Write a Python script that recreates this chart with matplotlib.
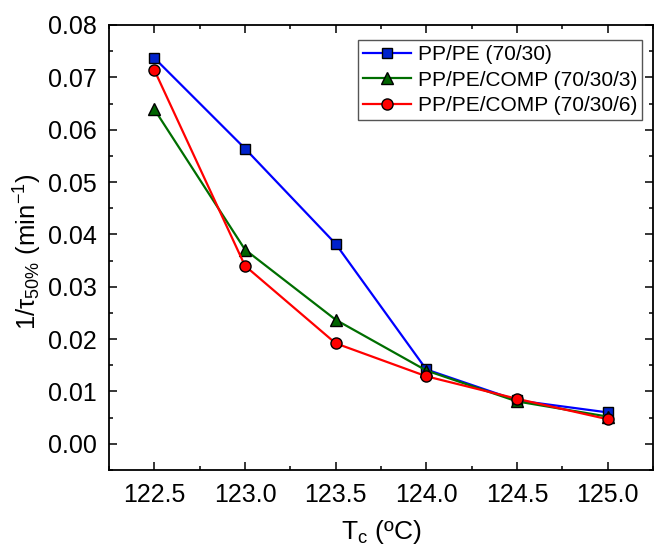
import matplotlib
matplotlib.use("Agg")
import matplotlib.pyplot as plt
from matplotlib.ticker import MultipleLocator, FormatStrFormatter

plt.rcParams['font.family'] = ['Liberation Sans', 'DejaVu Sans']
plt.rcParams['mathtext.fontset'] = 'custom'
plt.rcParams['mathtext.rm'] = 'Liberation Sans'
plt.rcParams['mathtext.it'] = 'Liberation Sans:italic'
plt.rcParams['mathtext.bf'] = 'Liberation Sans:bold'

tc = [122.5, 123.0, 123.5, 124.0, 124.5, 125.0]
pp_pe = [0.0737, 0.0564, 0.0382, 0.0142, 0.0083, 0.0060]
pp_pe_comp3 = [0.0639, 0.0371, 0.0237, 0.0140, 0.0081, 0.0052]
pp_pe_comp6 = [0.0714, 0.0340, 0.0192, 0.0129, 0.0086, 0.0047]
labels = ['PP/PE (70/30)', 'PP/PE/COMP (70/30/3)', 'PP/PE/COMP (70/30/6)']

fig = plt.figure(figsize=(6.54, 5.48), dpi=100)
ax = fig.add_axes([109/654, 1 - 470/548, 544/654, 445/548])

ax.plot(tc, pp_pe, '-s', color='#0000ff', mfc='#0022cc', mec='black', mew=1.0, ms=7, lw=1.6, label=labels[0])
ax.plot(tc, pp_pe_comp3, '-^', color='#006e00', mfc='#006400', mec='black', mew=1.0, ms=8, lw=1.6, label=labels[1])
ax.plot(tc, pp_pe_comp6, '-o', color='#ff0000', mfc='#ff0000', mec='black', mew=1.0, ms=8, lw=1.6, label=labels[2])

ax.set_xlim(122.25, 125.25)
ax.set_ylim(-0.005, 0.08)
ax.xaxis.set_major_locator(MultipleLocator(0.5))
ax.xaxis.set_minor_locator(MultipleLocator(0.25))
ax.yaxis.set_major_locator(MultipleLocator(0.01))
ax.yaxis.set_minor_locator(MultipleLocator(0.005))
ax.xaxis.set_major_formatter(FormatStrFormatter('%.1f'))
ax.yaxis.set_major_formatter(FormatStrFormatter('%.2f'))

ax.tick_params(which='both', direction='in', top=True, right=True, width=1.1)
ax.tick_params(which='major', length=5.5, labelsize=18, pad=9)
ax.tick_params(which='minor', length=2.8)
for s in ax.spines.values():
    s.set_linewidth(1.3)

ax.set_xlabel('T$_\\mathrm{c}$ (ºC)', fontsize=19)
ax.set_ylabel('1/τ$_{\\mathrm{50\\%}}$ (min$^{\\mathrm{-1}}$)', fontsize=18.5)
ax.xaxis.set_label_coords(0.5, -0.108)
ax.yaxis.set_label_coords(-0.12, 0.49)

leg = ax.legend(loc='upper right', bbox_to_anchor=(0.98, 0.966), borderaxespad=0,
                fontsize=15, handlelength=2.3, handletextpad=0.3, labelspacing=0.3,
                borderpad=0.25, fancybox=False, framealpha=1, edgecolor='#555555')
leg.get_frame().set_linewidth(1.0)

fig.savefig('out.png', dpi=100)
